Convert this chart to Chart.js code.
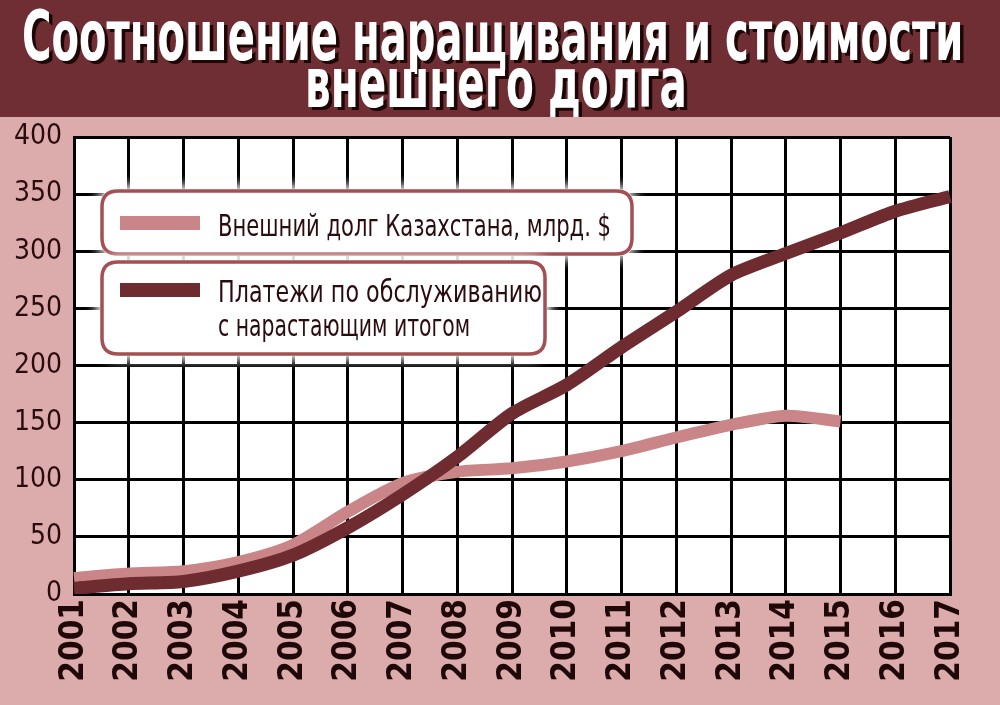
<!DOCTYPE html>
<html><head><meta charset="utf-8">
<script src="https://cdn.jsdelivr.net/npm/chart.js@4/dist/chart.umd.min.js"></script>
<style>
html,body{margin:0;padding:0;background:#dcabac;}
#wrap{position:relative;width:1000px;height:705px;overflow:hidden;}
#c{position:absolute;left:0;top:0;}
#title{position:absolute;left:0;top:0;width:1000px;height:117px;background:#6e2e33;overflow:hidden;}
.tl{position:absolute;white-space:nowrap;font-family:"DejaVu Sans Condensed","Liberation Sans Narrow",sans-serif;font-weight:bold;font-size:40px;line-height:40px;color:#fff;transform-origin:0 0;}
</style></head>
<body><div id="wrap"><canvas id="c" width="1000" height="705"></canvas>
<div id="title"><span class="tl" id="t1"></span><span class="tl" id="t2"></span></div></div>
<script>
const titleLines = ['Соотношение наращивания и стоимости', 'внешнего долга'];
const years = ['2001','2002','2003','2004','2005','2006','2007','2008','2009','2010','2011','2012','2013','2014','2015','2016','2017'];
const externalDebt = [14,18,20,28,43,72,97,107,110,116,125,137,148,156,151,null,null];
const debtService = [5,9,11,20,34,58,87,120,158,183,216,247,279,298,316,335,348];
const yTicks = [0,50,100,150,200,250,300,350,400];
const legendDebt = ['Внешний долг Казахстана, млрд. $'];
const legendService = ['Платежи по обслуживанию', 'с нарастающим итогом'];

const NARROW = '"Liberation Sans Narrow","DejaVu Sans Condensed",sans-serif';

// title
function placeTitle(id, text, left, width, baseline){
  const el = document.getElementById(id);
  el.textContent = text;
  const w = el.offsetWidth;
  const sx = width / w, sy = 1.72;
  el.style.left = left + 'px';
  el.style.top = (baseline - 33.8*sy) + 'px';
  el.style.transform = `scale(${sx},${sy})`;
  el.style.textShadow = `${3.5/sx}px ${3/sy}px 0 #1c0606`;
}
placeTitle('t1', titleLines[0], 22, 941, 60);
placeTitle('t2', titleLines[1], 305, 382, 107);

function rr(ctx,x,y,w,h,r){
  ctx.beginPath();
  ctx.moveTo(x+r,y);ctx.lineTo(x+w-r,y);ctx.quadraticCurveTo(x+w,y,x+w,y+r);
  ctx.lineTo(x+w,y+h-r);ctx.quadraticCurveTo(x+w,y+h,x+w-r,y+h);
  ctx.lineTo(x+r,y+h);ctx.quadraticCurveTo(x,y+h,x,y+h-r);
  ctx.lineTo(x,y+r);ctx.quadraticCurveTo(x,y,x+r,y);ctx.closePath();
}
function fitText(ctx,t,x,y,w){
  const m = ctx.measureText(t).width;
  ctx.save();ctx.translate(x,y);ctx.scale(w/m,1);ctx.fillText(t,0,0);ctx.restore();
}

const bgPlugin = {
  id:'bg',
  beforeDraw(chart){
    const {ctx, chartArea:a} = chart;
    ctx.save();
    ctx.fillStyle='#dcabac';ctx.fillRect(0,0,chart.width,chart.height);
    ctx.fillStyle='#ffffff';ctx.fillRect(a.left,a.top,a.right-a.left,a.bottom-a.top);
    ctx.restore();
  }
};
const legendPlugin = {
  id:'lg',
  afterDatasetsDraw(chart){
    const ctx = chart.ctx;
    const ds = chart.data.datasets;
    const boxes = [
      {x:102,y:191,w:530,h:63,sy:223,lines:legendDebt,ty:[236],tw:[393],color:ds[0].borderColor},
      {x:102,y:262,w:443,h:92,sy:290,lines:legendService,ty:[302,336],tw:[324,252],color:ds[1].borderColor}
    ];
    boxes.forEach(b=>{
      ctx.save();
      ctx.shadowColor='#ffffff';ctx.shadowBlur=14;
      ctx.fillStyle='#ffffff';
      rr(ctx,b.x-2,b.y-2,b.w+4,b.h+4,18);ctx.fill();ctx.fill();
      ctx.shadowBlur=0;
      rr(ctx,b.x,b.y,b.w,b.h,16);ctx.fill();
      ctx.lineWidth=3.5;ctx.strokeStyle='#a34f53';ctx.stroke();
      ctx.fillStyle=b.color;ctx.fillRect(120,b.sy-7,80,14);
      ctx.fillStyle='#2a0b0e';ctx.font='30px '+NARROW;ctx.textBaseline='alphabetic';
      b.lines.forEach((t,i)=>fitText(ctx,t,218,b.ty[i],b.tw[i]));
      ctx.restore();
    });
  }
};

new Chart(document.getElementById('c'), {
  type:'line',
  data:{
    labels: years,
    datasets:[
      {label: legendDebt.join(' '), data: externalDebt, borderColor:'#c98587', borderWidth:12, pointRadius:0, tension:0.25, order:1, borderCapStyle:'butt', borderJoinStyle:'round', spanGaps:false},
      {label: legendService.join(' '), data: debtService, borderColor:'#6e2c31', borderWidth:13, pointRadius:0, tension:0.25, order:0, borderCapStyle:'butt', borderJoinStyle:'round'}
    ]
  },
  options:{
    responsive:false, devicePixelRatio:1, animation:false,
    layout:{padding:{top:137,right:50,left:0,bottom:0}},
    plugins:{legend:{display:false}, tooltip:{enabled:false}, title:{display:false}},
    scales:{
      x:{
        offset:false,
        grid:{color:'#000',lineWidth:3,drawTicks:false},
        border:{color:'#000',width:3},
        ticks:{minRotation:90,maxRotation:90,autoSkip:false,padding:5,color:'#1e0808',
          font:{family:'"DejaVu Sans Condensed","DejaVu Sans",sans-serif',weight:'bold',size:33}},
        afterFit(s){s.height=111;}
      },
      y:{
        min:0,max:400,
        grid:{color:'#000',lineWidth:3,drawTicks:false},
        border:{color:'#000',width:3},
        ticks:{padding:12,color:'#2a0b0e',font:{family:NARROW,size:28}},
        afterBuildTicks(s){s.ticks = yTicks.map(v=>({value:v}));},
        afterFit(s){s.width=74;}
      }
    }
  },
  plugins:[bgPlugin, legendPlugin]
});
</script></body></html>
